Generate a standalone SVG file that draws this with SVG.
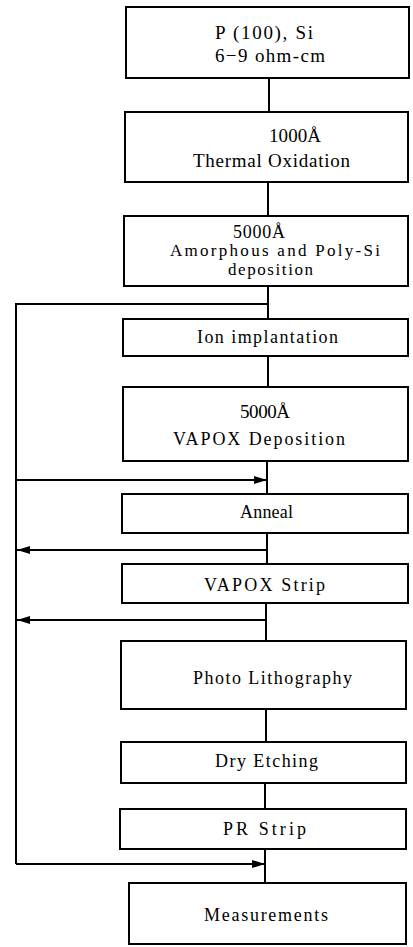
<svg xmlns="http://www.w3.org/2000/svg" width="413" height="947" viewBox="0 0 413 947">
<style>
.box{fill:#fff;stroke:#000;stroke-width:2}
.t{font-family:"Liberation Serif","Times New Roman",serif;font-size:18px;fill:#000}
.big{font-size:19px}
.sm{font-size:17px}
.ln{fill:none;stroke:#000;stroke-width:2}
</style>
<defs>
<marker id="ah" viewBox="0 0 13 8" refX="13" refY="4" markerWidth="13" markerHeight="8" markerUnits="userSpaceOnUse" orient="auto">
<path d="M0,0 L13,4 L0,8 Z" fill="#000"/>
</marker>
</defs>
<rect width="413" height="947" fill="#fff"/>
<g id="connectors">
<path class="ln" d="M269,78 V112"/>
<path class="ln" d="M268,182 V216"/>
<path class="ln" d="M268,286 V319"/>
<path class="ln" d="M268,356 V387"/>
<path class="ln" d="M267,461 V494"/>
<path class="ln" d="M267,533 V564"/>
<path class="ln" d="M266,603 V641"/>
<path class="ln" d="M266,709 V742"/>
<path class="ln" d="M265,783 V809"/>
<path class="ln" d="M265,849 V883"/>
<path class="ln" d="M268,304 H16 V864"/>
<path class="ln" d="M16,480 H267" marker-end="url(#ah)"/>
<path class="ln" d="M267,550 H17" marker-end="url(#ah)"/>
<path class="ln" d="M266,620 H17" marker-end="url(#ah)"/>
<path class="ln" d="M16,864 H265" marker-end="url(#ah)"/>
</g>
<g id="n1"><rect class="box" x="126" y="7" width="283" height="71"/>
<text class="t big" x="215" y="39" textLength="98" lengthAdjust="spacing">P (100), Si</text>
<text class="t big" x="215" y="62" textLength="110" lengthAdjust="spacing">6−9 ohm-cm</text></g>
<g id="n2"><rect class="box" x="125" y="112" width="283" height="70"/>
<text class="t big" x="269" y="142" textLength="52" lengthAdjust="spacing">1000Å</text>
<text class="t big" x="193" y="167" textLength="157" lengthAdjust="spacing">Thermal Oxidation</text></g>
<g id="n3"><rect class="box" x="124" y="216" width="284" height="70"/>
<text class="t" x="233" y="238" textLength="52" lengthAdjust="spacing">5000Å</text>
<text class="t sm" x="170" y="256" textLength="210" lengthAdjust="spacing">Amorphous and Poly-Si</text>
<text class="t sm" x="228" y="275" textLength="85" lengthAdjust="spacing">deposition</text></g>
<g id="n4"><rect class="box" x="123" y="319" width="285" height="37"/>
<text class="t" x="197" y="343" textLength="141" lengthAdjust="spacing">Ion implantation</text></g>
<g id="n5"><rect class="box" x="123" y="387" width="285" height="74"/>
<text class="t big" x="240" y="418" textLength="50" lengthAdjust="spacing">5000Å</text>
<text class="t" x="173" y="445" textLength="172" lengthAdjust="spacing">VAPOX  Deposition</text></g>
<g id="n6"><rect class="box" x="122" y="494" width="286" height="39"/>
<text class="t" x="240" y="518" textLength="53" lengthAdjust="spacing">Anneal</text></g>
<g id="n7"><rect class="box" x="122" y="564" width="286" height="39"/>
<text class="t" x="204" y="591" textLength="121" lengthAdjust="spacing">VAPOX Strip</text></g>
<g id="n8"><rect class="box" x="121" y="641" width="285" height="68"/>
<text class="t" x="193" y="684" textLength="159" lengthAdjust="spacing">Photo Lithography</text></g>
<g id="n9"><rect class="box" x="121" y="742" width="285" height="41"/>
<text class="t" x="215" y="767" textLength="103" lengthAdjust="spacing">Dry Etching</text></g>
<g id="n10"><rect class="box" x="120" y="809" width="286" height="40"/>
<text class="t" x="223" y="835" textLength="83" lengthAdjust="spacing">PR Strip</text></g>
<g id="n11"><rect class="box" x="129" y="883" width="277" height="61"/>
<text class="t" x="204" y="921" textLength="124" lengthAdjust="spacing">Measurements</text></g>
</svg>
